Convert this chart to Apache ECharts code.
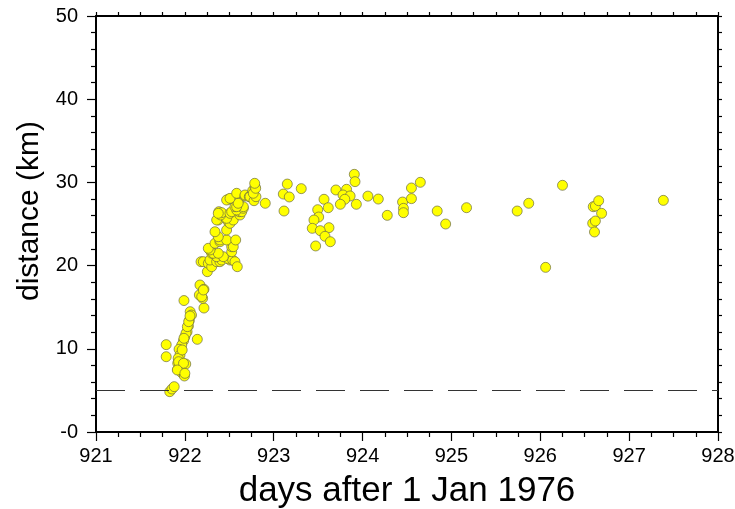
<!DOCTYPE html>
<html><head><meta charset="utf-8">
<script src="https://cdn.jsdelivr.net/npm/echarts@6/dist/echarts.min.js"></script>
<style>html,body{margin:0;padding:0;background:#fff}#c{width:735px;height:509px}</style>
</head><body><div id="c"></div>
<script>
// days after 1 Jan 1976
const dayValues = [
921.83,921.855,921.88,921.79,921.79,922.14,922.215,921.99,922.06,922.075,922.05,922.04,922.025,922.0,921.985,921.965,921.935,921.945,921.925,921.92,921.965,922.01,921.92,921.965,921.995,921.97,921.93,921.985,921.915,922.0,922.013,921.99,922.028,922.043,922.058,
922.17,922.215,922.163,922.2,922.19,922.208,922.182,922.208,922.253,922.264,922.302,922.283,922.358,922.395,922.414,922.508,922.478,922.538,922.564,922.59,922.358,922.433,922.302,922.32,922.376,922.283,922.264,922.527,922.527,922.545,922.339,922.395,922.395,922.47,922.572,922.376,922.339,922.47,922.489,922.508,922.376,922.358,922.545,922.47,922.403,922.62,922.383,922.414,922.376,922.508,922.527,922.613,922.64,922.583,922.658,922.658,922.564,922.583,922.6,922.6,922.489,922.47,922.508,922.583,922.677,922.677,922.725,922.733,922.778,922.8,922.763,922.77,922.79,922.797,922.786,922.905,
923.153,923.108,923.175,923.31,923.116,923.907,923.915,923.70,923.82,923.78,923.86,923.80,923.75,923.93,924.06,923.566,923.614,923.495,923.506,923.453,923.434,923.622,923.524,923.577,923.637,923.472,924.177,924.278,924.45,924.46,924.46,924.55,924.55,924.65,924.84,924.935,925.17,925.74,925.87,926.25,926.06,926.596,926.62,926.657,926.69,926.59,926.62,926.61,927.385
];
// distance (km)
const distanceValues = [
4.85,5.17,5.45,10.5,9.05,11.14,14.9,15.8,14.46,14.06,13.4,12.74,12.06,11.46,10.97,10.46,9.94,9.25,8.86,8.26,7.85,8.17,7.53,7.13,6.73,9.86,8.45,8.26,7.45,7.05,11.86,11.26,12.66,13.26,13.94,
17.67,17.15,16.47,16.07,16.27,17.07,20.47,20.47,19.27,20.27,19.87,20.67,20.47,20.47,20.67,20.67,20.87,20.67,20.47,19.87,21.07,21.07,21.48,21.48,21.48,21.88,22.08,21.67,22.27,22.27,22.68,22.87,23.08,23.08,23.08,23.47,24.07,24.28,25.28,25.08,25.48,25.48,25.48,25.68,26.08,26.08,26.48,26.36,26.28,26.28,26.48,26.48,26.48,26.68,26.89,27.08,27.08,27.08,27.68,27.49,27.97,27.88,28.08,28.69,28.37,28.49,28.28,28.28,27.8,28.28,29.0,28.69,29.49,29.29,29.89,27.49,
29.8,28.6,28.25,29.25,26.56,30.97,30.09,29.09,29.17,28.49,28.37,27.97,27.37,27.37,28.35,27.97,26.96,26.72,25.84,25.48,24.48,24.56,24.2,23.52,22.87,22.36,28.0,26.04,27.64,26.88,26.36,28.05,29.33,30.01,26.56,25.0,26.96,26.56,27.49,29.65,19.79,27.08,27.16,27.8,26.28,25.08,25.36,24.04,27.84
];
const xTickValues = [921,922,923,924,925,926,927,928];
const yTickValues = [0,10,20,30,40,50];
const referenceDistance = 5;

const points = dayValues.map((d, i) => [d, distanceValues[i]]);
const FONT = 'Liberation Sans';
const chart = echarts.init(document.getElementById('c'), null, {renderer: 'canvas'});
const lineStyle = {color: '#000', width: 2};
chart.setOption({
  animation: false,
  backgroundColor: '#fff',
  grid: {left: 96, top: 16, right: 17, bottom: 77, containLabel: false, outerBoundsMode: 'none'},
  xAxis: [{
    type: 'value', min: xTickValues[0], max: xTickValues[xTickValues.length-1], interval: 1,
    axisLine: {show: true, onZero: false, lineStyle},
    axisTick: {show: true, length: 9, lineStyle: {color: '#000', width: 1.2}},
    minorTick: {show: true, splitNumber: 4, length: 5, lineStyle: {color: '#000', width: 1.2}},
    splitLine: {show: false},
    axisLabel: {fontFamily: FONT, fontSize: 20, color: '#000', margin: 14},
    name: 'days after 1 Jan 1976', nameLocation: 'middle', nameGap: 42,
    nameTextStyle: {fontFamily: FONT, fontSize: 35, color: '#000'}
  }, {
    type: 'value', position: 'top', min: xTickValues[0], max: xTickValues[xTickValues.length-1], interval: 0.25,
    axisLine: {show: true, onZero: false, lineStyle},
    axisTick: {show: true, length: 4, lineStyle: {color: '#000', width: 1.2}},
    axisLabel: {show: false}, splitLine: {show: false}
  }],
  yAxis: [{
    type: 'value', min: yTickValues[0], max: yTickValues[yTickValues.length-1], interval: 10,
    axisLine: {show: true, onZero: false, lineStyle},
    axisTick: {show: true, length: 9, lineStyle: {color: '#000', width: 1.2}},
    minorTick: {show: true, splitNumber: 5, length: 5, lineStyle: {color: '#000', width: 1.2}},
    splitLine: {show: false},
    axisLabel: {fontFamily: FONT, fontSize: 20, color: '#000', margin: 18,
      formatter: v => v === 0 ? '-0' : String(v)},
    name: 'distance (km)', nameLocation: 'middle', nameGap: 44,
    nameTextStyle: {fontFamily: FONT, fontSize: 30, color: '#000', padding: [0, 0, 0, 26]}
  }, {
    type: 'value', position: 'right', min: yTickValues[0], max: yTickValues[yTickValues.length-1], interval: 2,
    axisLine: {show: true, onZero: false, lineStyle},
    axisTick: {show: true, length: 4, lineStyle: {color: '#000', width: 1.2}},
    axisLabel: {show: false}, splitLine: {show: false}
  }],
  series: [{
    type: 'scatter', xAxisIndex: 0, yAxisIndex: 0,
    data: points, symbolSize: 10,
    itemStyle: {color: '#ffff00', borderColor: '#6b6b45', borderWidth: 0.7, opacity: 1},
    markLine: {
      silent: true, symbol: 'none', label: {show: false},
      lineStyle: {color: '#333', width: 1, type: [29, 15]},
      data: [{yAxis: referenceDistance}]
    }
  }]
});
</script></body></html>
